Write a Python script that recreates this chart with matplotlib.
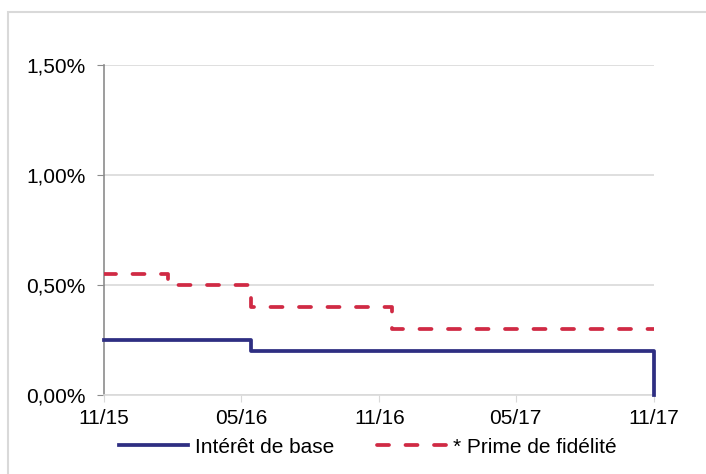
import datetime as dt
import matplotlib.pyplot as plt
import matplotlib.dates as mdates
from matplotlib.patches import Rectangle
from matplotlib.ticker import FuncFormatter

plt.rcParams['font.family'] = ['Liberation Sans', 'DejaVu Sans']

# taux de base (en %) : date de changement -> valeur
dates_base = [dt.date(2015, 11, 1), dt.date(2016, 5, 14), dt.date(2017, 11, 1), dt.date(2017, 11, 1)]
taux_base = [0.25, 0.20, 0.20, 0.0]

# prime de fidelite (en %)
dates_prime = [dt.date(2015, 11, 1), dt.date(2016, 1, 25), dt.date(2016, 5, 14),
               dt.date(2016, 11, 18), dt.date(2017, 11, 1)]
taux_prime = [0.55, 0.50, 0.40, 0.30, 0.30]

ticks_x = [dt.date(2015, 11, 1), dt.date(2016, 5, 1), dt.date(2016, 11, 1),
           dt.date(2017, 5, 1), dt.date(2017, 11, 1)]
ticks_y = [0.0, 0.5, 1.0, 1.5]

fig = plt.figure(figsize=(7.06, 4.74), dpi=100)
ax = fig.add_axes([104 / 706, 79 / 474, 550 / 706, 330 / 474])

# cadre gris autour du graphique
fig.patches.append(Rectangle((8 / 706, -0.05), 1.05, 1.05 - 12 / 474,
                             transform=fig.transFigure, fill=False,
                             edgecolor='#d9d9d9', linewidth=1.5))

ax.step(dates_base, taux_base, where='post', color='#2e2e82', linewidth=2.7,
        label='Intérêt de base', zorder=3, clip_on=False)
ax.step(dates_prime, taux_prime, where='post', color='#d02a44', linewidth=2.7,
        linestyle=(0, (3.2, 4.4)), dash_capstyle='round', label='* Prime de fidélité', zorder=3)

ax.set_xlim(ticks_x[0], ticks_x[-1])
ax.set_ylim(0, 1.5)
ax.set_xticks(ticks_x)
ax.set_yticks(ticks_y)
ax.xaxis.set_major_formatter(mdates.DateFormatter('%m/%y'))
ax.yaxis.set_major_formatter(FuncFormatter(lambda v, p: f'{v:.2f}%'.replace('.', ',')))

ax.grid(axis='y', color='#d9d9d9', linewidth=1.2)
ax.set_axisbelow(True)
for s in ['top', 'right']:
    ax.spines[s].set_visible(False)
ax.spines['left'].set_color('#8c8c8c')
ax.spines['left'].set_linewidth(1.2)
ax.spines['bottom'].set_color('#d9d9d9')
ax.spines['bottom'].set_linewidth(1.2)
ax.tick_params(axis='y', colors='#8c8c8c', length=5, labelcolor='black', labelsize=15, pad=8)
ax.tick_params(axis='x', colors='#d9d9d9', length=5, labelcolor='black', labelsize=15, pad=5)

ax.legend(loc='center', bbox_to_anchor=(0.48, -0.158), ncol=2, frameon=False,
          fontsize=15, handlelength=3.3, handletextpad=0.35, columnspacing=2.05)

fig.savefig('out.png', dpi=100)
